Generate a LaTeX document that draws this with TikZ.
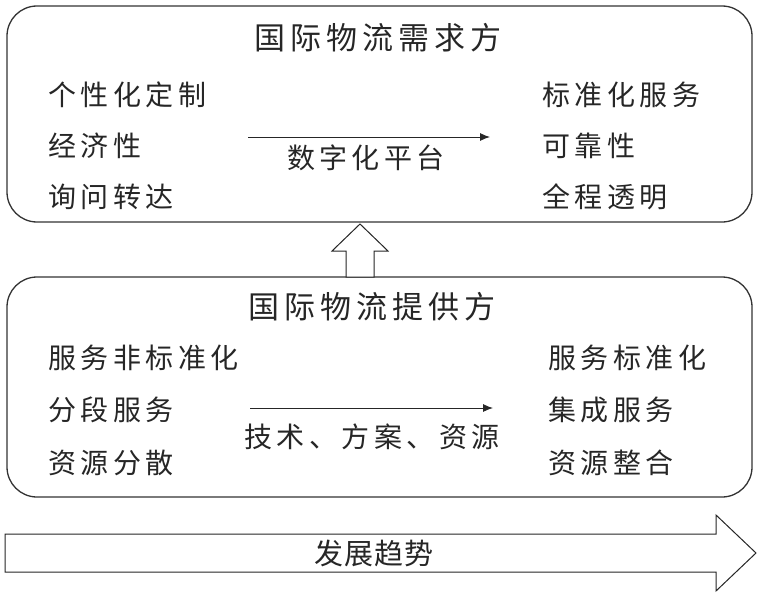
\documentclass[tikz,border=0pt]{standalone}
\usepackage{fontspec}
\usetikzlibrary{arrows.meta}
\newfontfamily\cjk{Noto Sans CJK SC}[LetterSpace=16]
\newfontfamily\cjkt{Noto Sans CJK SC}[LetterSpace=4]
\begin{document}
\begin{tikzpicture}[x=1pt,y=-1pt,
  panel/.style={draw=black!80,line width=1.3pt,rounded corners=30pt},
  item/.style={font=\cjk\fontsize{28}{30}\selectfont,text=black!85,inner sep=0pt,anchor=west},
  ttl/.style={font=\cjk\fontsize{31}{32}\selectfont,text=black!85,inner sep=0pt},
  flow/.style={draw=black!85,line width=0.9pt,-{Latex[length=10pt,width=8pt]}},
  hollow/.style={draw=black!85,line width=1pt,fill=white}]
\useasboundingbox (0,0) rectangle (763,594);
% panels
\draw[panel] (7,6) rectangle (752,222);
\draw[panel] (7,277) rectangle (752,497);
% top panel texts
\node[ttl] (t1) at (378,38) {国际物流需求方};
\node[item] (a1) at (48,95) {个性化定制};
\node[item] (a2) at (48,146) {经济性};
\node[item] (a3) at (48,197) {询问转达};
\node[item] (b1) at (542,95) {标准化服务};
\node[item] (b2) at (542,146) {可靠性};
\node[item] (b3) at (542,197) {全程透明};
\coordinate (p1) at (248,137);
\coordinate (p2) at (490,137);
\draw[flow] (p1) -- (p2);
\node[item,anchor=center] (m1) at (366,158) {数字化平台};
% bottom panel texts
\node[ttl] (t2) at (372,307) {国际物流提供方};
\node[item] (c1) at (48,358) {服务非标准化};
\node[item] (c2) at (48,410) {分段服务};
\node[item] (c3) at (48,463) {资源分散};
\node[item] (d1) at (548,358) {服务标准化};
\node[item] (d2) at (548,410) {集成服务};
\node[item] (d3) at (548,463) {资源整合};
\coordinate (q1) at (250,408);
\coordinate (q2) at (493,408);
\draw[flow] (q1) -- (q2);
\node[item,anchor=center] (m2) at (372,437) {技术、方案、资源};
% up arrow
\draw[hollow] (346,277) -- (346,251) -- (332,251) -- (360,224) -- (388,251) -- (374,251) -- (374,277) -- cycle;
% trend arrow
\draw[hollow] (5,534) -- (716,534) -- (716,515) -- (756,553) -- (716,591) -- (716,572) -- (5,572) -- cycle;
\node[font=\cjkt\fontsize{29}{30}\selectfont,text=black!85,inner sep=0pt] (tr) at (374,553) {发展趋势};
\end{tikzpicture}
\end{document}
